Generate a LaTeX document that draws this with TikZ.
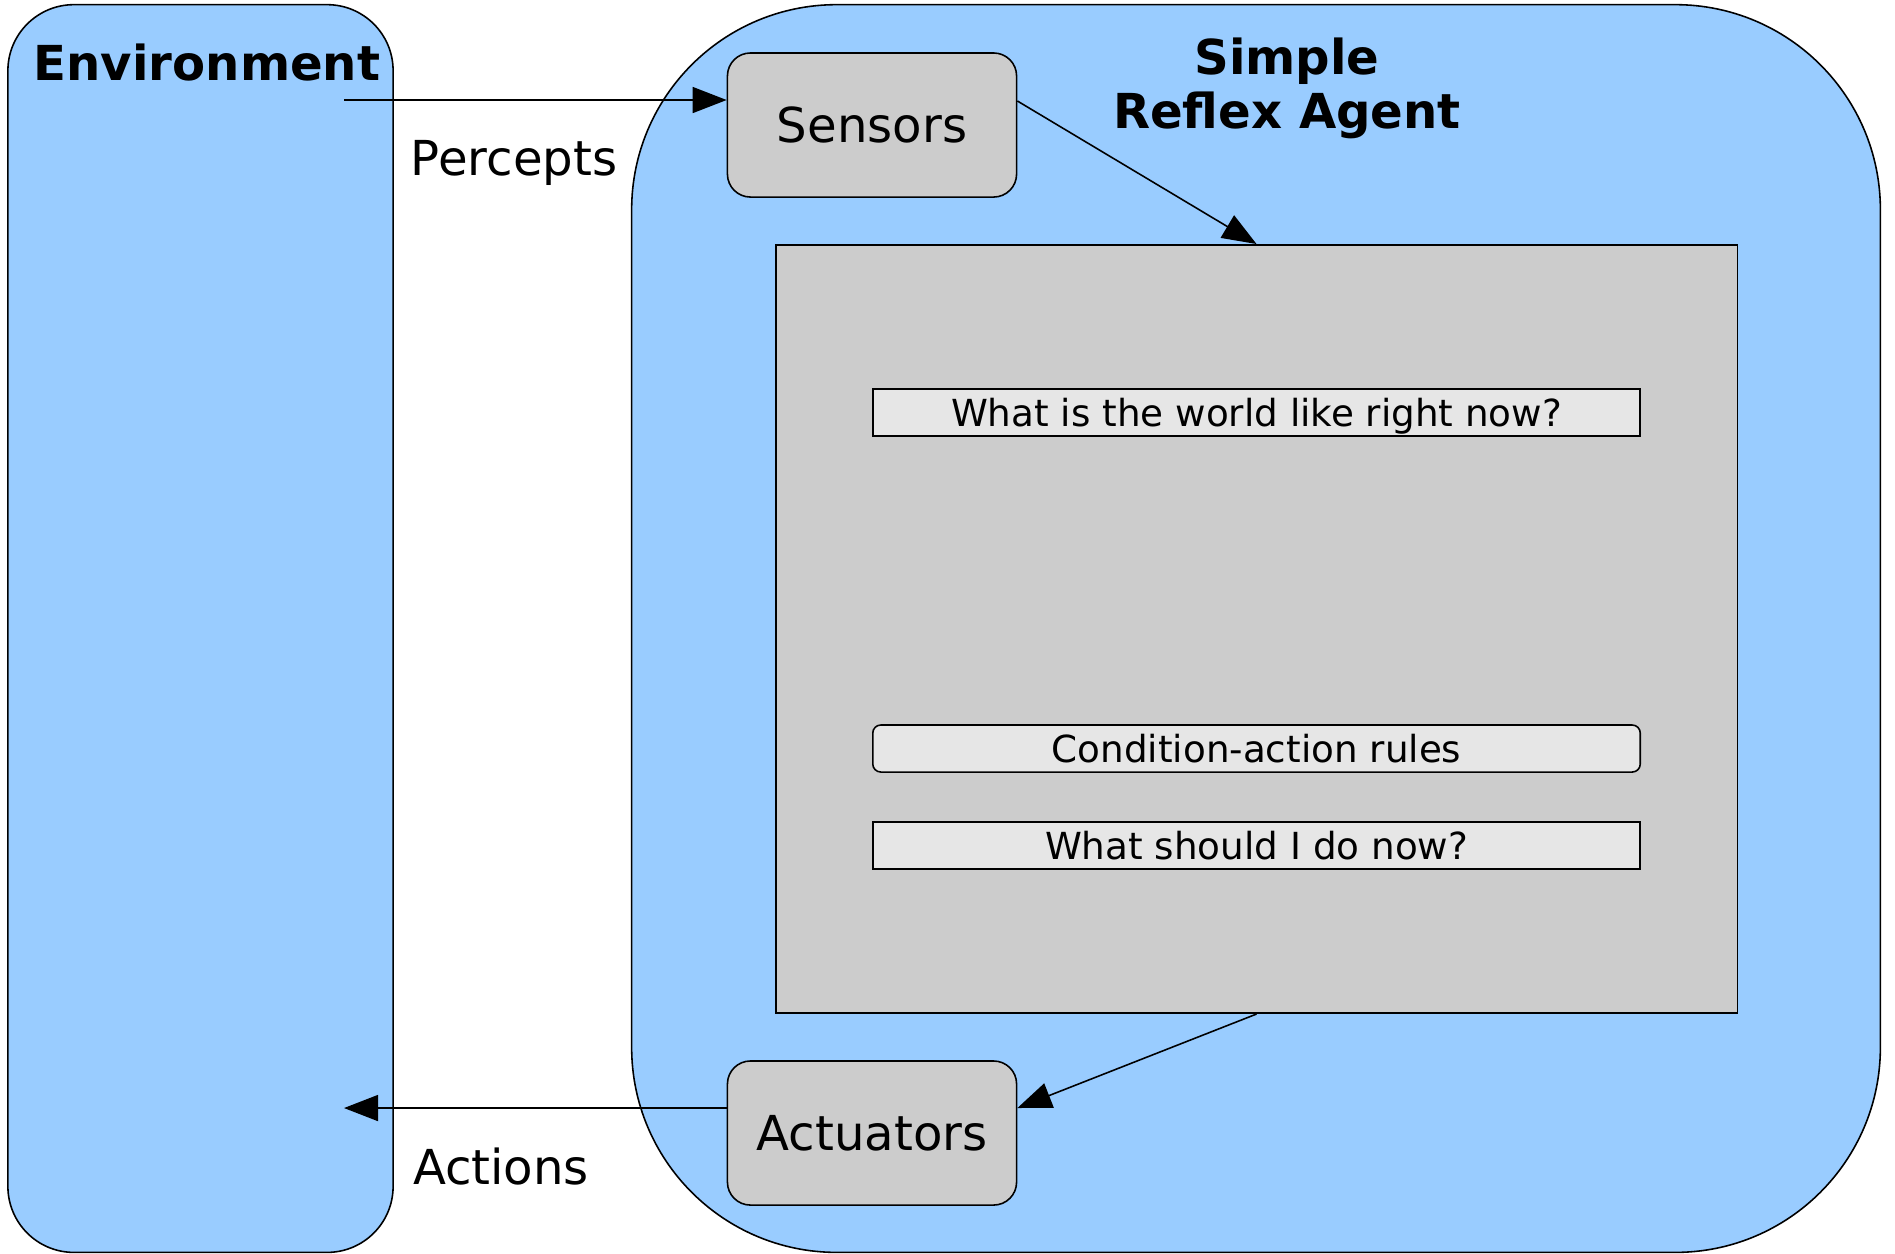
\documentclass[tikz,border=0pt]{standalone}
\usepackage{fontspec}
\setmainfont{DejaVu Sans}
\usetikzlibrary{arrows.meta,calc}

\definecolor{panelblue}{RGB}{153,204,255}
\definecolor{unitgray}{RGB}{204,204,204}
\definecolor{labelgray}{RGB}{230,230,230}

\tikzset{
  panel/.style={draw=black, line width=0.45pt, fill=panelblue, inner sep=0pt},
  unitbox/.style={draw=black, line width=0.45pt, fill=unitgray, inner sep=0pt,
    rounded corners=0.23cm, minimum width=2.89cm, minimum height=1.44cm,
    font=\fontsize{13.7}{16.5}\selectfont},
  labelbox/.style={draw=black, line width=0.45pt, fill=labelgray, inner sep=0pt,
    minimum width=7.67cm, minimum height=0.47cm, text depth=0pt,
    font=\fontsize{10.6}{12.7}\selectfont},
  bigtext/.style={inner sep=0pt, font=\fontsize{13.7}{16.5}\selectfont},
  titletext/.style={inner sep=0pt, align=center,
    font=\fontsize{13.7}{15.4}\selectfont\bfseries},
  arr/.style={line width=0.45pt, -{Triangle[length=0.34cm,width=0.26cm]}}
}

\begin{document}
\begin{tikzpicture}[x=0.01cm, y=-0.01cm]
\useasboundingbox (0,0) rectangle (1895,1253);

% outer panels
\node[panel, rounded corners=0.66cm, minimum width=3.85cm, minimum height=12.47cm]
  (env) at (200.5,628.5) {};
\node[panel, rounded corners=2.05cm, minimum width=12.48cm, minimum height=12.47cm]
  (agent) at (1256,628.5) {};

% agent program area
\node[draw=black, line width=0.45pt, fill=unitgray, inner sep=0pt,
  minimum width=9.61cm, minimum height=7.68cm] (core) at (1256.5,629) {};

\node[labelbox] (world) at (1256.5,412.5) {What is the world like right now?};
\node[labelbox, rounded corners=0.08cm] (rules) at (1256.5,748.5) {Condition-action rules};
\node[labelbox] (todo) at (1256.5,845.5) {What should I do now?};

% sensors and actuators
\node[unitbox] (sens) at (872,125) {Sensors};
\node[unitbox] (act) at (872,1133) {Actuators};

% titles
\node[titletext] (envtitle) at (207,63) {Environment};
\node[titletext] (agenttitle) at (1287,88) {Simple\\Reflex Agent};

% connectors
\coordinate (penv) at (344,100);
\coordinate (aenv) at (344,1108);
\draw[arr] (penv) -- (penv -| sens.west);
\draw[arr] ($(sens.east)+(0,0.24cm)$) -- (core.north);
\draw[arr] (core.south) -- ($(act.east)+(0,0.25cm)$);
\draw[arr] (aenv -| act.west) -- (aenv);

% connector labels
\node[bigtext, anchor=base] (perlbl) at (514,175) {Percepts};
\node[bigtext, anchor=base] (actlbl) at (501,1184) {Actions};
\end{tikzpicture}
\end{document}
